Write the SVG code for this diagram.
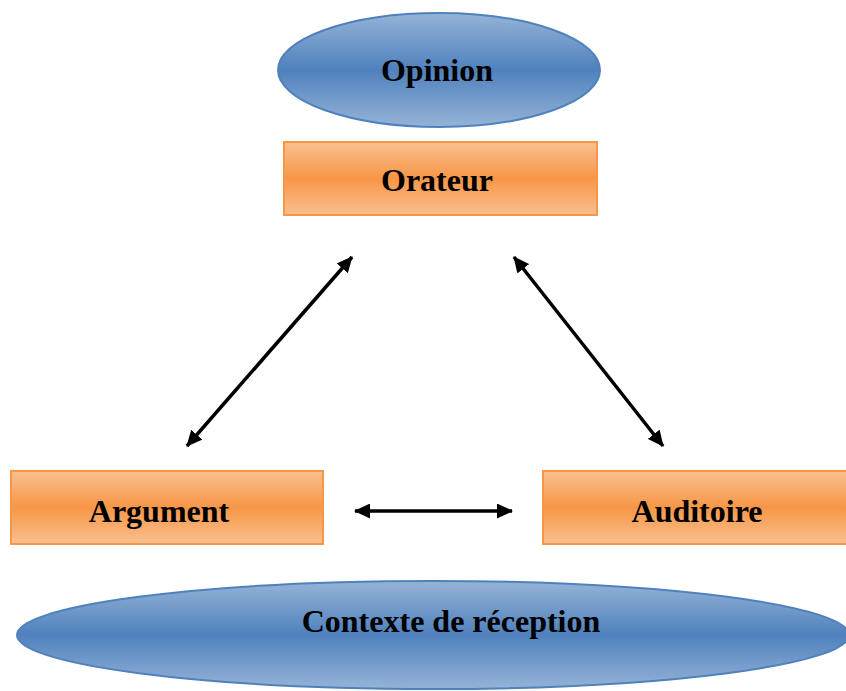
<svg xmlns="http://www.w3.org/2000/svg" width="846" height="691" viewBox="0 0 846 691">
<style>
.rect{stroke:#f79646;stroke-width:2;fill:url(#og)}
.ell{stroke:#4f81bd;stroke-width:2;fill:url(#bg)}
.lbl{font-family:"Liberation Serif","Times New Roman",serif;font-weight:bold;font-size:32px;fill:#000;text-anchor:middle}
.conn{stroke:#000;stroke-width:3.5;fill:none;marker-start:url(#ah);marker-end:url(#ah)}
</style>
<defs>
<linearGradient id="og" x1="0" y1="0" x2="0" y2="1">
<stop offset="0" stop-color="#fac090"/>
<stop offset="0.5" stop-color="#f79646"/>
<stop offset="1" stop-color="#fac090"/>
</linearGradient>
<linearGradient id="bg" x1="0" y1="0" x2="0" y2="1">
<stop offset="0" stop-color="#95b3d7"/>
<stop offset="0.5" stop-color="#4f81bd"/>
<stop offset="1" stop-color="#95b3d7"/>
</linearGradient>
<marker id="ah" viewBox="0 0 16 15" refX="15" refY="7.5" markerWidth="16" markerHeight="15" orient="auto-start-reverse" markerUnits="userSpaceOnUse">
<path d="M0,0 L16,7.5 L0,15 z" fill="#000"/>
</marker>
</defs>
<rect width="846" height="691" fill="#fff"/>
<g id="opinion">
<ellipse class="ell" cx="439" cy="70" rx="161" ry="57"/>
<text class="lbl" x="437" y="81">Opinion</text>
</g>
<g id="orateur">
<rect class="rect" x="284" y="142" width="313" height="73"/>
<text class="lbl" x="437" y="191">Orateur</text>
</g>
<g id="argument">
<rect class="rect" x="11" y="471" width="312" height="73"/>
<text class="lbl" x="159" y="522">Argument</text>
</g>
<g id="auditoire">
<rect class="rect" x="543" y="471" width="313" height="73"/>
<text class="lbl" x="697" y="522">Auditoire</text>
</g>
<g id="contexte">
<ellipse class="ell" cx="433" cy="635" rx="416" ry="54"/>
<text class="lbl" x="451" y="632">Contexte de réception</text>
</g>
<g id="connectors">
<line class="conn" x1="187" y1="446" x2="352" y2="257"/>
<line class="conn" x1="514" y1="257" x2="663" y2="446"/>
<line class="conn" x1="355" y1="511" x2="512" y2="511"/>
</g>
</svg>
